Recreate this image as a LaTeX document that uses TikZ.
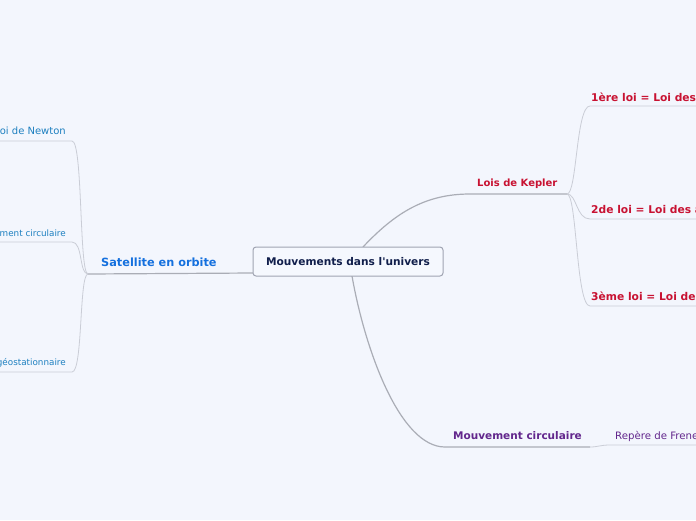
\documentclass[tikz,border=0pt]{standalone}
\usepackage{fontspec}
\setmainfont{DejaVu Sans}
\definecolor{bg}{RGB}{243,246,253}
\definecolor{boxfill}{RGB}{245,248,254}
\definecolor{boxline}{RGB}{160,164,178}
\definecolor{navy}{RGB}{16,30,75}
\definecolor{kred}{RGB}{200,18,50}
\definecolor{mpurple}{RGB}{98,38,140}
\definecolor{sblue}{RGB}{20,112,222}
\definecolor{lblue}{RGB}{30,128,192}
\definecolor{medge}{RGB}{170,173,182}
\definecolor{sedge}{RGB}{202,205,214}
\tikzset{
  central/.style={draw=boxline, fill=boxfill, rounded corners=3pt, line width=1pt,
    minimum width=190pt, minimum height=29pt, inner sep=0pt, text=navy,
    font=\bfseries\fontsize{10.6}{12}\selectfont},
  lbl/.style={inner sep=0pt},
  kep/.style={lbl, text=kred, font=\bfseries\fontsize{10}{12}\selectfont},
  kepc/.style={lbl, text=kred, font=\bfseries\fontsize{10.7}{12}\selectfont},
  purp/.style={lbl, text=mpurple, font=\bfseries\fontsize{10.5}{12}\selectfont},
  purpn/.style={lbl, text=mpurple, font=\fontsize{10.2}{12}\selectfont},
  sat/.style={lbl, text=sblue, font=\bfseries\fontsize{11.3}{13}\selectfont},
  leftbig/.style={lbl, text=lblue, font=\fontsize{10}{12}\selectfont},
  leftsmall/.style={lbl, text=lblue, font=\fontsize{8.8}{10}\selectfont},
  mainedge/.style={draw=medge, line width=1.2pt},
  subedge/.style={draw=sedge, line width=0.8pt},
}
\begin{document}
\begin{tikzpicture}[x=1pt,y=-1pt]
\useasboundingbox (0,0) rectangle (696,520);
\fill[bg] (0,0) rectangle (696,520);
\clip (0,0) rectangle (696,520);

% coordinates
\coordinate (cK) at (363,247);
\coordinate (kL) at (470,194);
\coordinate (kR) at (567,194);
\coordinate (k1) at (590,106);
\coordinate (k1e) at (700,106);
\coordinate (k2) at (590,219);
\coordinate (k2e) at (700,219);
\coordinate (k3) at (590,306);
\coordinate (k3e) at (700,306);
\coordinate (cM) at (352,276);
\coordinate (mL) at (445,447);
\coordinate (mR) at (590,447);
\coordinate (f1) at (610,445);
\coordinate (f1e) at (700,445);
\coordinate (cS) at (253,273);
\coordinate (sL) at (88,274);
\coordinate (n1) at (72,141);
\coordinate (n1e) at (-4,141);
\coordinate (n2) at (72,242);
\coordinate (n2e) at (-4,242);
\coordinate (n3) at (72,372);
\coordinate (n3e) at (-4,372);

% edges
\draw[mainedge] (cK) .. controls (395,213) and (425,194) .. (kL) -- (kR);
\draw[subedge] (kR) .. controls (577,194) and (576,106) .. (k1) -- (k1e);
\draw[subedge] (kR) .. controls (577,194) and (576,219) .. (k2) -- (k2e);
\draw[subedge] (kR) .. controls (577,194) and (576,306) .. (k3) -- (k3e);
\draw[mainedge] (cM) .. controls (365,350) and (400,447) .. (mL) -- (mR);
\draw[subedge] (mR) .. controls (598,447) and (600,445) .. (f1) -- (f1e);
\draw[mainedge] (cS) -- (sL);
\draw[subedge] (sL) .. controls (79,274) and (83,141) .. (n1) -- (n1e);
\draw[subedge] (sL) .. controls (79,274) and (83,242) .. (n2) -- (n2e);
\draw[subedge] (sL) .. controls (79,274) and (83,372) .. (n3) -- (n3e);

% nodes
\node[central] (c) at (348,261.5) {Mouvements dans l\textquotesingle univers};
\node[kep, anchor=west] (k) at (477,183.5) {Lois de Kepler};
\node[kepc, anchor=west] (ka) at (591,97) {1ère loi = Loi des orbites};
\node[kepc, anchor=west] (kb) at (591,210) {2de loi = Loi des aires};
\node[kepc, anchor=west] (kc) at (591,297) {3ème loi = Loi des périodes};
\node[purp, anchor=west] (m) at (453,436) {Mouvement circulaire};
\node[purpn, anchor=west] (fr) at (615,436) {Repère de Frenet};
\node[sat, anchor=west] (s) at (101,262) {Satellite en orbite};
\node[leftbig, anchor=east] (sa) at (66,131) {2ème loi de Newton};
\node[leftsmall, anchor=east] (sb) at (66,233) {Mouvement circulaire};
\node[leftsmall, anchor=east] (sc) at (66,363) {Satellite géostationnaire};
\end{tikzpicture}
\end{document}
